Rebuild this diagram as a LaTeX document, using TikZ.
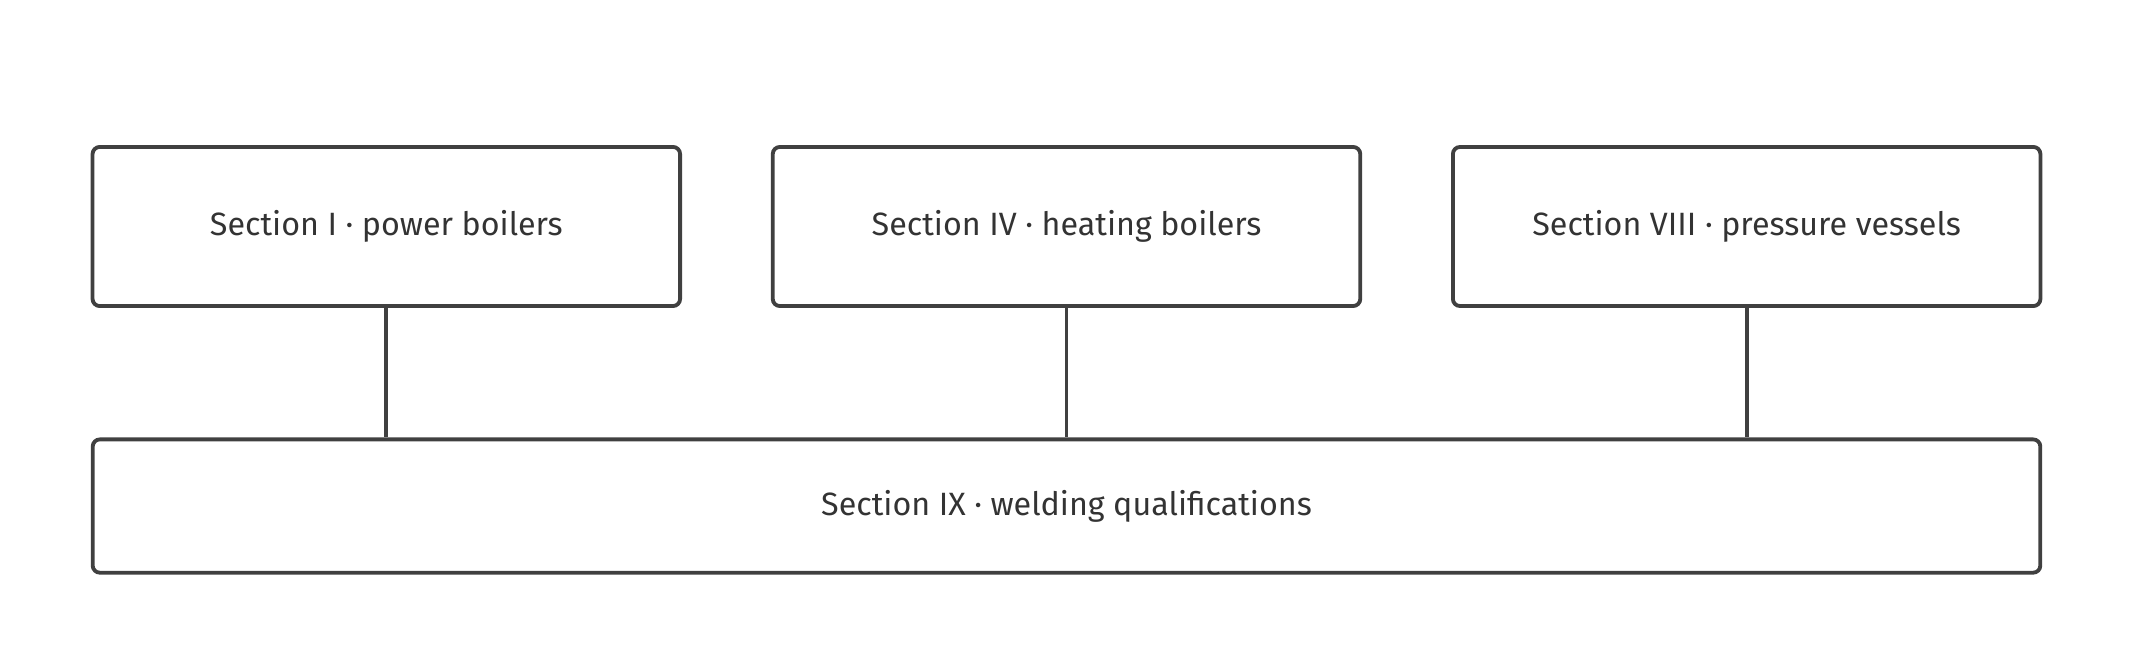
\documentclass[tikz,border=0pt]{standalone}
\usepackage{fontspec}
\setmainfont{Fira Sans}
\usetikzlibrary{positioning}
\definecolor{edge}{HTML}{404040}
\definecolor{ink}{HTML}{333333}
\begin{document}
\begin{tikzpicture}[x=0.02cm,y=-0.02cm,
  sect/.style={shape=rectangle,draw=edge,line width=1.6pt,rounded corners=3pt,
    minimum width=8.64cm,minimum height=2.34cm,text=ink,font=\fontsize{13.5}{16}\selectfont},
  base/.style={sect,minimum width=28.64cm,minimum height=1.96cm},
  link/.style={draw=edge,line width=1.6pt}]
\useasboundingbox (0,0) rectangle (1568,490);

\node[sect] (s1) at (284,166.5) {Section I · power boilers};
\node[sect] (s4) at (784,166.5) {Section IV · heating boilers};
\node[sect] (s8) at (1284,166.5) {Section VIII · pressure vessels};

\node[base] (s9) at (784,372) {Section IX · welding qualifications};

\foreach \s in {s1,s4,s8}
  \draw[link] (\s.south) -- (\s.south |- s9.north);
\end{tikzpicture}
\end{document}
